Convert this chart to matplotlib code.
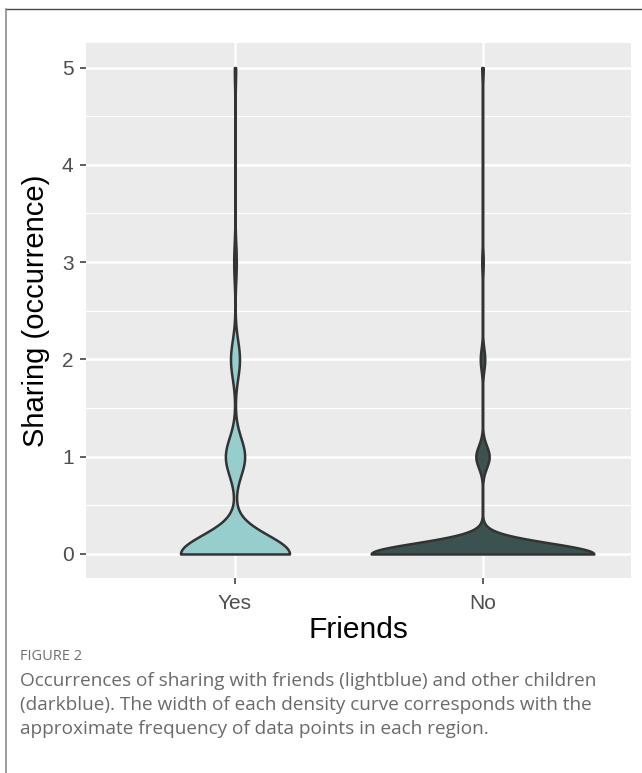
import numpy as np
import matplotlib
matplotlib.use("Agg")
import matplotlib.pyplot as plt
from matplotlib.lines import Line2D

# ---------------- data ----------------
groups = ["Yes", "No"]
share_levels = [0, 1, 2, 3, 4, 5]
yes_counts = [85, 15, 7, 2, 0, 1]
no_counts = [150, 9, 3, 1, 0, 1]
bandwidths = [0.195, 0.113]
fill_colors = ["#96CDCD", "#3C5250"]
y_ticks = [0, 1, 2, 3, 4, 5]
x_title = "Friends"
y_title = "Sharing (occurrence)"
caption_head = "FIGURE 2"
caption_lines = [
    "Occurrences of sharing with friends (lightblue) and other children",
    "(darkblue). The width of each density curve corresponds with the",
    "approximate frequency of data points in each region.",
]

plt.rcParams['font.family'] = ['Liberation Sans', 'DejaVu Sans']


def kde(levels, counts, bw, grid):
    vals = np.repeat(np.asarray(levels, float), counts)
    d = (grid[:, None] - vals[None, :]) / bw
    return np.exp(-0.5 * d ** 2).sum(1) / (len(vals) * bw * np.sqrt(2 * np.pi))


W, H = 642, 773
fig = plt.figure(figsize=(W / 100, H / 100), dpi=100)
ax = fig.add_axes([86.5 / W, 1 - 578.3 / H, 544.5 / W, (578.3 - 43.2) / H])
ax.set_facecolor("#EBEBEB")
for s in ax.spines.values():
    s.set_visible(False)

all_counts = [yes_counts, no_counts]
dens = []
grids = []
for cnt, bw in zip(all_counts, bandwidths):
    vals = np.repeat(np.asarray(share_levels, float), cnt)
    g = np.linspace(vals.min(), vals.max(), 512)
    grids.append(g)
    dens.append(kde(share_levels, cnt, bw, g))
mx = max(d.max() for d in dens)

ax.set_xlim(0.4, 2.6)
ax.set_ylim(-0.25, 5.25)

# grid
for y in np.arange(0.5, 5.0, 1.0):
    ax.axhline(y, color="white", lw=0.9, zorder=0.5)
for y in y_ticks:
    ax.axhline(y, color="white", lw=1.8, zorder=0.6)
for x in [1, 2]:
    ax.axvline(x, color="white", lw=1.8, zorder=0.6)

for i, (g, d) in enumerate(zip(grids, dens)):
    w = d / mx * 0.45
    pos = i + 1
    ax.fill_betweenx(g, pos - w, pos + w, facecolor=fill_colors[i],
                     edgecolor="#333333", lw=1.8, zorder=2)

ax.set_xticks([1, 2])
ax.set_xticklabels(groups)
ax.set_yticks(y_ticks)
ax.set_yticklabels([str(t) for t in y_ticks])
ax.tick_params(axis="both", colors="#333333", length=4.3, width=1.1,
               labelsize=15, labelcolor="#4D4D4D")
ax.tick_params(axis="x", pad=7)
ax.tick_params(axis="y", pad=5)
ax.set_xlabel(x_title, fontsize=21.5, color="black")
ax.set_ylabel(y_title, fontsize=21, color="black")
ax.xaxis.set_label_coords(0.5, (578.3 - 630) / (578.3 - 43.2))
ax.xaxis.label.set_va("center")
ax.yaxis.set_label_coords((36 - 86.5) / 544.5, 0.5)
ax.yaxis.label.set_va("center")

# frame lines
fig.add_artist(Line2D([6 / W, 1.0], [1 - 9 / H, 1 - 9 / H], transform=fig.transFigure,
                      color="#4A4A4A", lw=1.0))
fig.add_artist(Line2D([6 / W, 6 / W], [0, 1 - 9 / H], transform=fig.transFigure,
                      color="#8C8C8C", lw=1.2))

# caption
fig.text(20 / W, 1 - 656 / H, caption_head, fontsize=10.5, color="#707070",
         family=["Open Sans", "DejaVu Sans"], va="center", ha="left")
for k, line in enumerate(caption_lines):
    fig.text(20 / W, 1 - (681 + 24 * k) / H, line, fontsize=13.7, color="#6A6A6A",
             family=["Open Sans", "DejaVu Sans"], va="center", ha="left")

fig.savefig("out.png", dpi=100)
